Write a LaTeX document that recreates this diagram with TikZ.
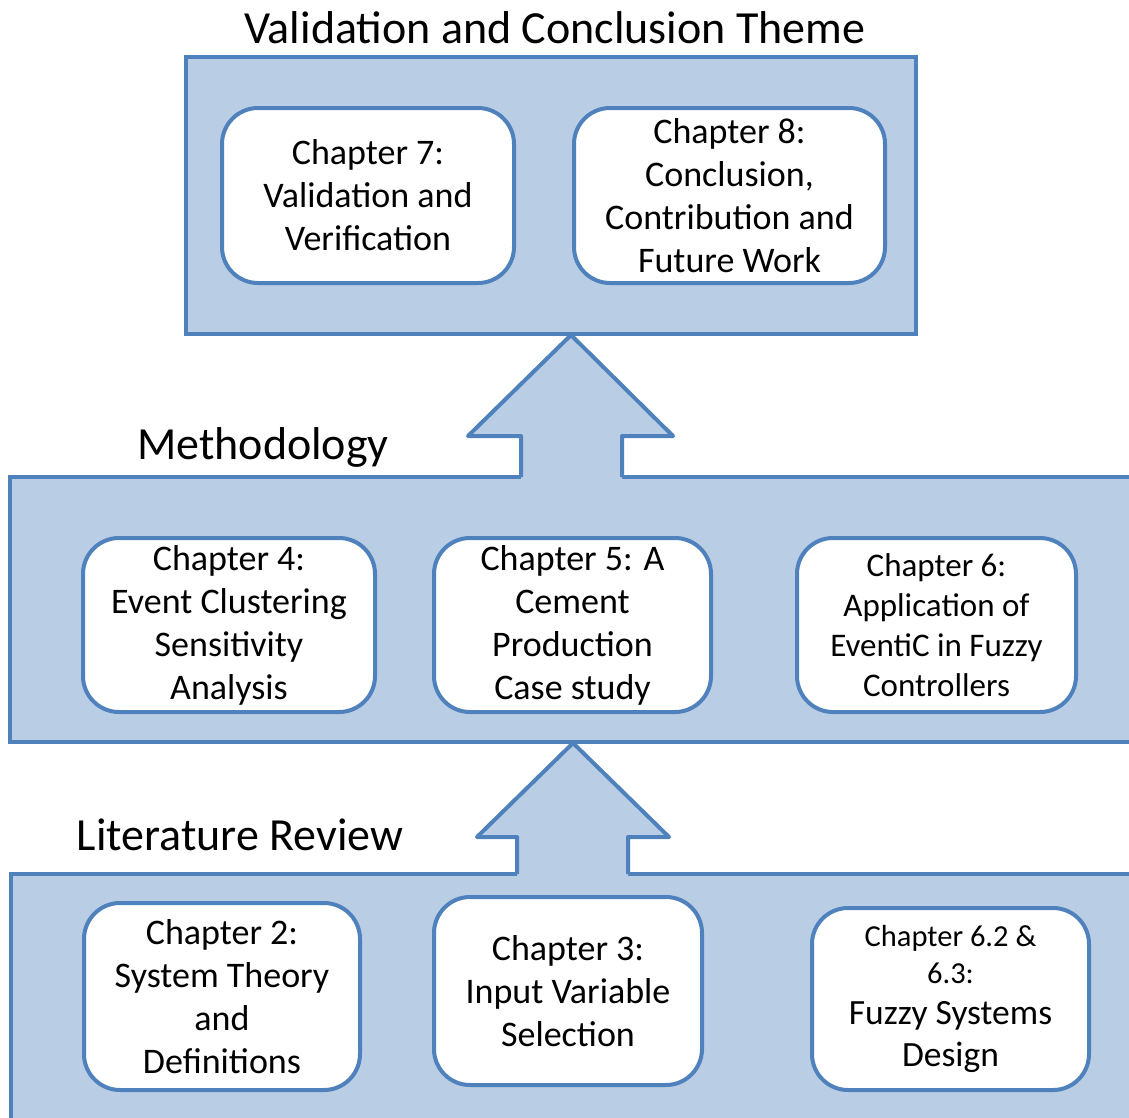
\documentclass[tikz,border=0pt]{standalone}
\usepackage{fontspec}
\setmainfont{Carlito}
\definecolor{panelfill}{HTML}{B9CDE5}
\definecolor{panelline}{HTML}{4F81BD}
\newcommand{\smallline}{\fontsize{30.5}{37}\selectfont}
\newcommand{\bigline}{\fontsize{35.5}{42}\selectfont}

\begin{document}
\begin{tikzpicture}[x=1pt,y=-1pt,
  panel/.style={draw=panelline, fill=panelfill, line width=4pt},
  chapbox/.style={draw=panelline, fill=white, line width=4pt,
    rounded corners=36pt, align=center, inner sep=0pt,
    font=\fontsize{36}{43}\selectfont},
  smallbox/.style={chapbox, font=\fontsize{33}{40}\selectfont},
  themetitle/.style={anchor=base, inner sep=0pt, font=\fontsize{46}{54}\selectfont},
  arrowfill/.style={fill=panelfill},
  arrowline/.style={draw=panelline, line width=4pt, line join=round}]

\useasboundingbox (0,0) rectangle (1129,1117);
\clip (0,0) rectangle (1129,1117);

% theme panels
\path[panel] (186,57) rectangle (916,334);
\path[panel] (10,477) rectangle (1140,742);
\path[panel] (11,874) rectangle (1140,1130);

% block arrow: methodology -> validation
\path[arrowfill] (521,481) -- (521,436) -- (468,436) -- (571,335)
  -- (673,436) -- (622,436) -- (622,481) -- cycle;
\draw[arrowline] (521,477) -- (521,436) -- (468,436) -- (571,335)
  -- (673,436) -- (622,436) -- (622,477);

% block arrow: literature review -> methodology
\path[arrowfill] (517,878) -- (517,837) -- (477,837) -- (573,743)
  -- (669,837) -- (628,837) -- (628,878) -- cycle;
\draw[arrowline] (517,874) -- (517,837) -- (477,837) -- (573,743)
  -- (669,837) -- (628,837) -- (628,874);

% theme titles
\node[themetitle] (tval) at (555,43) {Validation and Conclusion Theme};
\node[themetitle] (tmeth) at (263,459) {Methodology};
\node[themetitle] (tlit) at (240,850) {Literature Review};

% chapter boxes
\node[chapbox, minimum width=292pt, minimum height=175pt] (ch7) at (368,195.5)
  {Chapter 7:\\Validation and\\Verification};
\node[chapbox, minimum width=311pt, minimum height=175pt] (ch8) at (729.5,195.5)
  {Chapter 8:\\Conclusion,\\Contribution and\\Future Work};

\node[chapbox, minimum width=292pt, minimum height=174pt] (ch4) at (229,625)
  {Chapter 4:\\Event Clustering\\Sensitivity\\Analysis};
\node[chapbox, minimum width=277pt, minimum height=174pt] (ch5) at (572.5,625)
  {Chapter 5: A\\Cement\\Production\\Case study};
\node[smallbox, minimum width=279pt, minimum height=174pt] (ch6) at (936.5,625)
  {Chapter 6:\\Application of\\EventiC in Fuzzy\\Controllers};

\node[chapbox, minimum width=276pt, minimum height=187pt] (ch2) at (222,996.5)
  {Chapter 2:\\System Theory\\and\\Definitions};
\node[chapbox, minimum width=268pt, minimum height=188pt] (ch3) at (568,991)
  {Chapter 3:\\Input Variable\\Selection};
\node[chapbox, minimum width=277pt, minimum height=182pt, font=\smallline] (ch62) at (950.5,999)
  {Chapter 6.2 \&\\6.3:\\[4pt]\bigline Fuzzy Systems\\[5pt]\bigline Design};
\end{tikzpicture}
\end{document}
